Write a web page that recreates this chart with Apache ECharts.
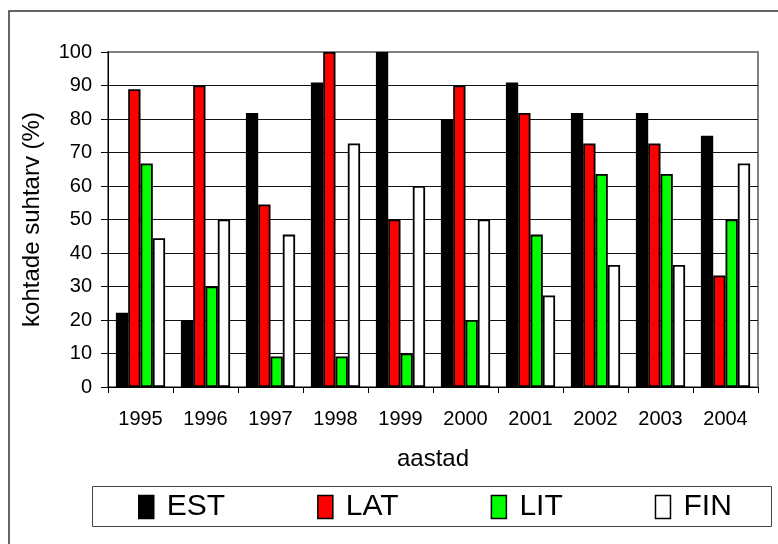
<!DOCTYPE html>
<html>
<head>
<meta charset="utf-8">
<script src="https://cdn.jsdelivr.net/npm/echarts@6/dist/echarts.min.js"></script>
<style>
html,body{margin:0;padding:0;background:#fff;}
#c{width:778px;height:544px;}
</style>
</head>
<body>
<div id="c"></div>
<script>
var years = ['1995','1996','1997','1998','1999','2000','2001','2002','2003','2004'];
var estValues = [22.2, 20, 81.8, 90.9, 100, 80, 90.9, 81.8, 81.8, 75];
var latValues = [88.9, 90, 54.5, 100, 50, 90, 81.8, 72.7, 72.7, 33.3];
var litValues = [66.7, 30, 9.1, 9.1, 10, 20, 45.5, 63.6, 63.6, 50];
var finValues = [44.4, 50, 45.5, 72.7, 60, 50, 27.3, 36.4, 36.4, 66.7];
var yTicks = [0,10,20,30,40,50,60,70,80,90,100];

var FONT = '"Liberation Sans", Arial, sans-serif';
var chart = echarts.init(document.getElementById('c'), null, {renderer:'canvas'});

function bar(name, data, color){
  return {
    name: name, type: 'bar', data: data,
    barWidth: 12.3, barGap: '0%',
    itemStyle: {color: color, borderColor: '#000', borderWidth: 1.8},
    emphasis: {disabled: true}
  };
}

chart.setOption({
  animation: false,
  backgroundColor: '#fff',
  graphic: [
    {type:'rect', shape:{x:9, y:11, width:820, height:600}, style:{fill:'none', stroke:'#333', lineWidth:1.5}, z:-10},
    {type:'rect', shape:{x:92.5, y:486.5, width:679, height:40}, style:{fill:'none', stroke:'#444', lineWidth:1}, z:-10}
  ],
  grid: {left:108, top:52, width:650, height:335, show:true, borderColor:'#808080', borderWidth:2, backgroundColor:'transparent'},
  legend: {
    left: 138, top: 492, padding: 0,
    itemWidth: 15, itemHeight: 23, itemGap: 92,
    icon: 'rect',
    itemStyle: {borderColor:'#000', borderWidth:1.5},
    textStyle: {fontFamily: FONT, fontSize: 30, color:'#000', padding:[2,0,0,8]},
    data: ['EST','LAT','LIT','FIN']
  },
  xAxis: {
    type: 'category', data: years,
    name: 'aastad', nameLocation: 'middle', nameGap: 60,
    nameTextStyle: {fontFamily: FONT, fontSize: 24, color:'#000'},
    axisLine: {lineStyle:{color:'#000', width:1}},
    axisTick: {show:true, alignWithLabel:false, length:6, lineStyle:{color:'#000'}},
    axisLabel: {fontFamily: FONT, fontSize: 20, color:'#000', margin: 22},
    splitLine: {show:false}
  },
  yAxis: {
    type: 'value', min: 0, max: 100, interval: 10,
    name: 'kohtade suhtarv (%)', nameLocation: 'middle', nameGap: 64, nameRotate: 90,
    nameTextStyle: {fontFamily: FONT, fontSize: 24, color:'#000'},
    axisLine: {show:true, lineStyle:{color:'#000', width:1}},
    axisTick: {show:true, length:7, lineStyle:{color:'#000'}},
    axisLabel: {fontFamily: FONT, fontSize: 20, color:'#000', margin: 16,
      formatter: function(v){ return yTicks.indexOf(v) >= 0 ? String(v) : ''; }},
    splitLine: {show:true, showMaxLine:false, lineStyle:{color:'#111', width:1}}
  },
  series: [
    bar('EST', estValues, '#000000'),
    bar('LAT', latValues, '#ff0000'),
    bar('LIT', litValues, '#00ff00'),
    bar('FIN', finValues, '#ffffff')
  ]
});
</script>
</body>
</html>
